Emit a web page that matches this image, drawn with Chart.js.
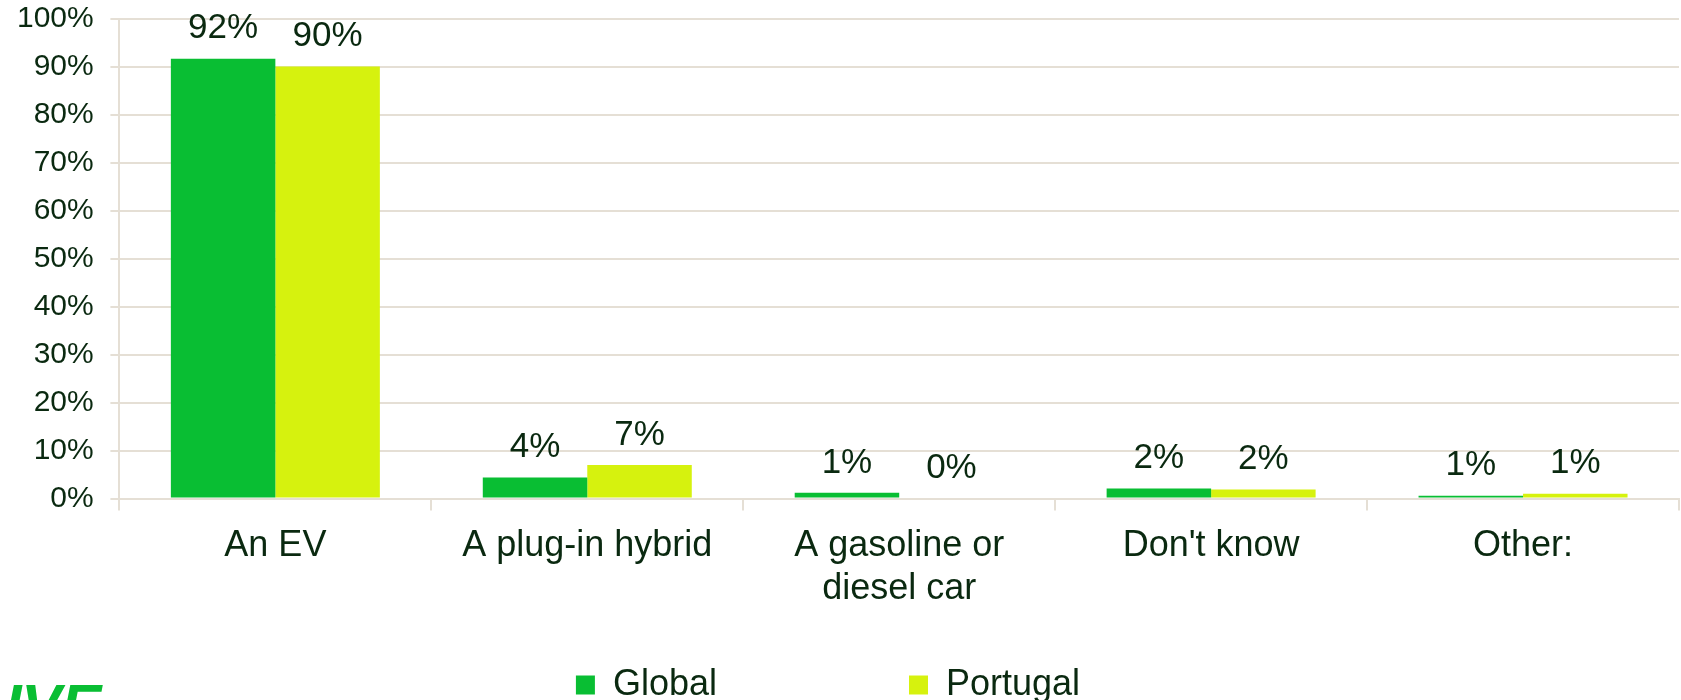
<!DOCTYPE html>
<html>
<head>
<meta charset="utf-8">
<script src="https://cdn.jsdelivr.net/npm/chart.js@4"></script>
<style>
  html, body { margin: 0; padding: 0; background: #fff; }
  #wrap { width: 1681px; height: 700px; }
</style>
</head>
<body>
<div id="wrap"><canvas id="chart"></canvas></div>
<script>
const categories = ['An EV', 'A plug-in hybrid', ['A gasoline or', 'diesel car'], "Don't know", 'Other:'];
const globalValues = [91.7, 4.4, 1.2, 2.1, 0.6];
const portugalValues = [90.1, 7.0, 0, 1.9, 1.0];
const seriesNames = ['Global', 'Portugal'];
const yTicks = [0, 10, 20, 30, 40, 50, 60, 70, 80, 90, 100];

const textColor = '#0a2910';
const gridColor = '#e5dfd5';
const fontFamily = '"Liberation Sans", Arial, sans-serif';

// valores em cima das barras
const valueLabels = {
    id: 'valueLabels',
    afterDatasetsDraw(chart) {
        const ctx = chart.ctx;
        ctx.save();
        ctx.fillStyle = textColor;
        ctx.font = '35px ' + fontFamily;
        ctx.textAlign = 'center';
        ctx.textBaseline = 'middle';
        chart.data.datasets.forEach((ds, i) => {
            chart.getDatasetMeta(i).data.forEach((bar, j) => {
                ctx.fillText(Math.round(ds.data[j]) + '%', bar.x, bar.y - 30);
            });
        });
        ctx.restore();
    }
};

// logo cortado no canto
const logo = {
    id: 'logo',
    afterDraw(chart) {
        const ctx = chart.ctx;
        ctx.save();
        ctx.fillStyle = '#09be33';
        ctx.font = 'italic bold 60px ' + fontFamily;
        ctx.textBaseline = 'alphabetic';
        ctx.fillText('UVE', -22, 726);
        ctx.restore();
    }
};

new Chart(document.getElementById('chart'), {
    type: 'bar',
    data: {
        labels: categories,
        datasets: [{
            label: seriesNames[0],
            data: globalValues,
            backgroundColor: '#09be33'
        }, {
            label: seriesNames[1],
            data: portugalValues,
            backgroundColor: '#d6f20e'
        }]
    },
    options: {
        responsive: true,
        maintainAspectRatio: false,
        animation: false,
        layout: { padding: { left: 17, right: 2, top: 19, bottom: -13 } },
        datasets: {
            bar: { categoryPercentage: 0.67, barPercentage: 1.0 }
        },
        plugins: {
            tooltip: { enabled: false },
            legend: {
                position: 'bottom',
                labels: {
                    color: textColor,
                    font: { family: fontFamily, size: 36 },
                    boxWidth: 19,
                    boxHeight: 19,
                    padding: 42,
                    generateLabels(chart) {
                        const items = Chart.defaults.plugins.legend.labels.generateLabels(chart);
                        items[0].text = items[0].text + ' '.repeat(15);
                        items[1].text = items[1].text + '    ';
                        items.forEach(it => { it.lineWidth = 0; });
                        return items;
                    }
                }
            }
        },
        scales: {
            x: {
                grid: {
                    offset: true,
                    drawOnChartArea: false,
                    color: gridColor,
                    lineWidth: 2,
                    tickLength: 12
                },
                border: { color: gridColor, width: 2 },
                ticks: {
                    color: textColor,
                    font: { family: fontFamily, size: 36 },
                    padding: 14,
                    maxRotation: 0,
                    autoSkip: false
                }
            },
            y: {
                min: 0,
                max: 100,
                afterBuildTicks(axis) {
                    axis.ticks = yTicks.map(v => ({ value: v }));
                },
                grid: {
                    color: gridColor,
                    lineWidth: 2,
                    tickLength: 9
                },
                border: { color: gridColor, width: 2 },
                ticks: {
                    color: textColor,
                    font: { family: fontFamily, size: 30 },
                    padding: 0,
                    callback: v => v + '%  '
                }
            }
        }
    },
    plugins: [valueLabels, logo]
});
</script>
</body>
</html>
